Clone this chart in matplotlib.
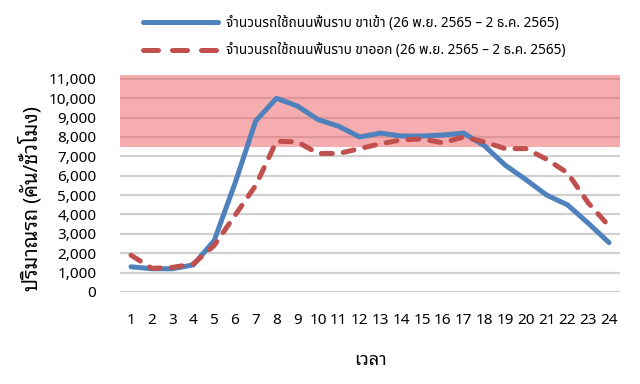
import matplotlib
matplotlib.use('Agg')
import matplotlib.pyplot as plt
from matplotlib.lines import Line2D

hours = list(range(1, 25))
inbound = [1300, 1200, 1200, 1400, 2650, 5600, 8830, 10000, 9600, 8900, 8550, 8000,
           8200, 8050, 8050, 8100, 8200, 7550, 6550, 5800, 5000, 4500, 3550, 2550]
outbound = [1900, 1220, 1270, 1450, 2400, 3950, 5500, 7780, 7750, 7150, 7150, 7400,
            7650, 7850, 7900, 7700, 8000, 7750, 7400, 7400, 6850, 6150, 4600, 3400]
label_in = 'จำนวนรถใช้ถนนพื้นราบ ขาเข้า (26 พ.ย. 2565 – 2 ธ.ค. 2565)'
label_out = 'จำนวนรถใช้ถนนพื้นราบ ขาออก (26 พ.ย. 2565 – 2 ธ.ค. 2565)'
yticks = list(range(0, 11001, 1000))
band = (7500, 11200)

blue = '#4f81bd'
red = '#c0504d'

fig = plt.figure(figsize=(6.4, 3.84), dpi=100)
ax = fig.add_axes([0.1875, 0.2396, 0.7813, 0.5651])

for y in yticks:
    ax.axhline(y, color='#d0d0d0', lw=1.6, zorder=1)
# highlighted range, semi transparent so the grid shows through
ax.axhspan(band[0], band[1], color='#ed5d61', alpha=0.5, zorder=2, lw=0)

ax.plot(hours, inbound, color=blue, lw=3.6, solid_capstyle='round', zorder=3)
ax.plot(hours, outbound, color=red, lw=3.6, linestyle=(0, (2.2, 2.2)),
        dash_capstyle='round', zorder=3)

ax.set_xlim(0.47, 24.53)
ax.set_ylim(0, 11200)
ax.set_xticks(hours)
ax.set_yticks(yticks)
ax.set_yticklabels([f'{v:,}' for v in yticks])
for s in ax.spines.values():
    s.set_visible(False)
ax.tick_params(length=0, labelsize=11, colors='black')
ax.tick_params(axis='x', pad=15)
ax.tick_params(axis='y', pad=17)
for t in ax.get_xticklabels() + ax.get_yticklabels():
    t.set_family(['Noto Sans Thai', 'DejaVu Sans'])

ax.set_xlabel('เวลา', family=['Noto Sans Thai Looped', 'DejaVu Sans'],
              fontsize=13, fontweight='bold', labelpad=17)
ax.set_ylabel('ปริมาณรถ (คัน/ชั่วโมง)', family=['Noto Sans Thai Looped', 'DejaVu Sans'],
              fontsize=14.5, fontweight='bold')
ax.yaxis.set_label_coords(-0.155, 0.43)

handles = [
    Line2D([], [], color=blue, lw=3.6, solid_capstyle='round'),
    Line2D([], [], color=red, lw=3.6, linestyle=(0, (3.0, 2.8)), dash_capstyle='round'),
]
leg = fig.legend(handles, [label_in, label_out], loc='upper left',
                 bbox_to_anchor=(0.205, 0.99), frameon=False,
                 handlelength=5.5, handletextpad=0.6, labelspacing=0.9,
                 prop={'family': ['Noto Sans Thai', 'DejaVu Sans'], 'weight': 'bold', 'size': 9.8})

fig.savefig('out.png', dpi=100)
